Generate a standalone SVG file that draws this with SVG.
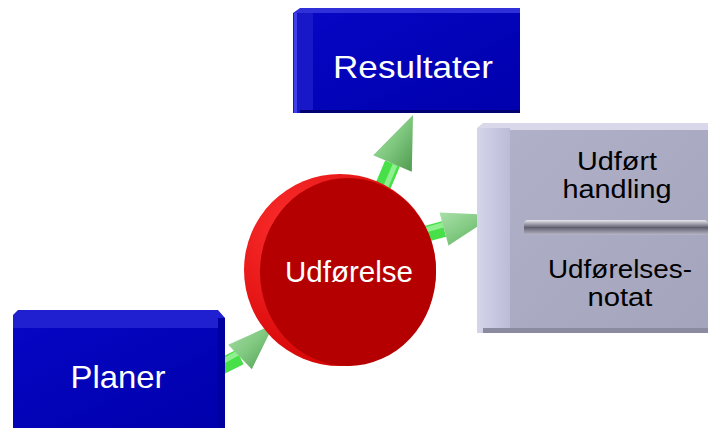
<svg xmlns="http://www.w3.org/2000/svg" width="708" height="431" viewBox="0 0 708 431">
<defs>
<linearGradient id="cone" x1="0" y1="0" x2="1" y2="1">
<stop offset="0" stop-color="#a8e0a8"/><stop offset="0.5" stop-color="#80c880"/><stop offset="1" stop-color="#4e9a4e"/>
</linearGradient>
<linearGradient id="blueFront" x1="0" y1="0" x2="1" y2="1">
<stop offset="0" stop-color="#0606c4"/><stop offset="1" stop-color="#0000ac"/>
</linearGradient>
<linearGradient id="graySide" x1="0" y1="0" x2="1" y2="0">
<stop offset="0" stop-color="#d4d4ea"/><stop offset="1" stop-color="#bcbcd8"/>
</linearGradient>
<linearGradient id="grayFront" x1="0" y1="0" x2="1" y2="1">
<stop offset="0" stop-color="#b0b0c8"/><stop offset="1" stop-color="#a4a4bc"/>
</linearGradient>
<linearGradient id="bar" x1="0" y1="0" x2="0" y2="1">
<stop offset="0" stop-color="#e8e8f0"/><stop offset="0.5" stop-color="#606070"/><stop offset="1" stop-color="#b8b8c8"/>
</linearGradient>
<radialGradient id="rim" cx="0.3" cy="0.3" r="0.8">
<stop offset="0" stop-color="#ff3030"/><stop offset="1" stop-color="#d00000"/>
</radialGradient>
</defs>
<style>
.shaft{stroke:#48e048;stroke-width:16;stroke-linecap:butt}
.shaftHi{stroke:#90f090;stroke-width:5}
.cone{fill:url(#cone)}
.w{font-family:"Liberation Sans",Arial,sans-serif;fill:#ffffff}
.k{font-family:"Liberation Sans",Arial,sans-serif;fill:#000000;font-size:25px}
</style>
<rect width="708" height="431" fill="#ffffff"/>
<g id="connectors">
<line class="shaft" x1="375" y1="205" x2="392.5" y2="163.5"/>
<line class="shaftHi" x1="378" y1="205" x2="395" y2="165"/>
<polygon class="cone" points="413,115 373.2,155.3 411.8,171.7"/>
<line class="shaft" x1="418" y1="236" x2="444" y2="229"/>
<line class="shaftHi" x1="418" y1="232" x2="443" y2="225"/>
<polygon class="cone" points="495,215 439.5,212.6 448.5,245.4"/>
<line class="shaft" x1="218" y1="368" x2="240" y2="357"/>
<line class="shaftHi" x1="218" y1="364" x2="238" y2="353"/>
<polygon class="cone" points="274,324 228.2,344.8 251.8,369.2"/>
</g>
<g id="resultater">
<polygon points="293,13 300,8 520,8 520,13" fill="#3030d8"/>
<rect x="293" y="13" width="20" height="100" fill="#1818c8"/>
<rect x="294" y="13" width="3" height="100" fill="#4040e8"/>
<rect x="313" y="13" width="207" height="100" fill="url(#blueFront)"/>
<rect x="300" y="110" width="220" height="3" fill="#000070"/>
<text class="w" x="413" y="78" font-size="32" text-anchor="middle" textLength="160" lengthAdjust="spacingAndGlyphs">Resultater</text>
</g>
<g id="planer">
<polygon points="13,315 18,310 218,310 225,318 225,328 13,328" fill="#2020d0"/>
<rect x="218" y="318" width="7" height="110" fill="#0000a0"/>
<rect x="13" y="328" width="205" height="100" fill="url(#blueFront)"/>
<text class="w" x="118" y="388" font-size="32" text-anchor="middle" textLength="95" lengthAdjust="spacingAndGlyphs">Planer</text>
</g>
<g id="udforelse">
<circle cx="340" cy="270" r="96" fill="url(#rim)"/>
<ellipse cx="348" cy="272" rx="88" ry="94" fill="#b40000"/>
<text class="w" x="349" y="282" font-size="30" text-anchor="middle" textLength="128" lengthAdjust="spacingAndGlyphs">Udførelse</text>
</g>
<g id="panel">
<polygon points="477,128 483,123 708,123 708,130 510,130" fill="#d8d8ea"/>
<rect x="477" y="128" width="33" height="205" fill="url(#graySide)"/>
<rect x="510" y="130" width="198" height="203" fill="url(#grayFront)"/>
<rect x="483" y="328" width="225" height="5" fill="#8a8aa0"/>
<rect x="524" y="220" width="184" height="15" rx="4" fill="url(#bar)"/>
<text class="k" x="617" y="170" text-anchor="middle" textLength="80" lengthAdjust="spacingAndGlyphs">Udført</text>
<text class="k" x="617" y="198" text-anchor="middle" textLength="109" lengthAdjust="spacingAndGlyphs">handling</text>
<text class="k" x="620" y="278" text-anchor="middle" textLength="144" lengthAdjust="spacingAndGlyphs">Udførelses-</text>
<text class="k" x="620" y="306" text-anchor="middle" textLength="65" lengthAdjust="spacingAndGlyphs">notat</text>
</g>
</svg>
